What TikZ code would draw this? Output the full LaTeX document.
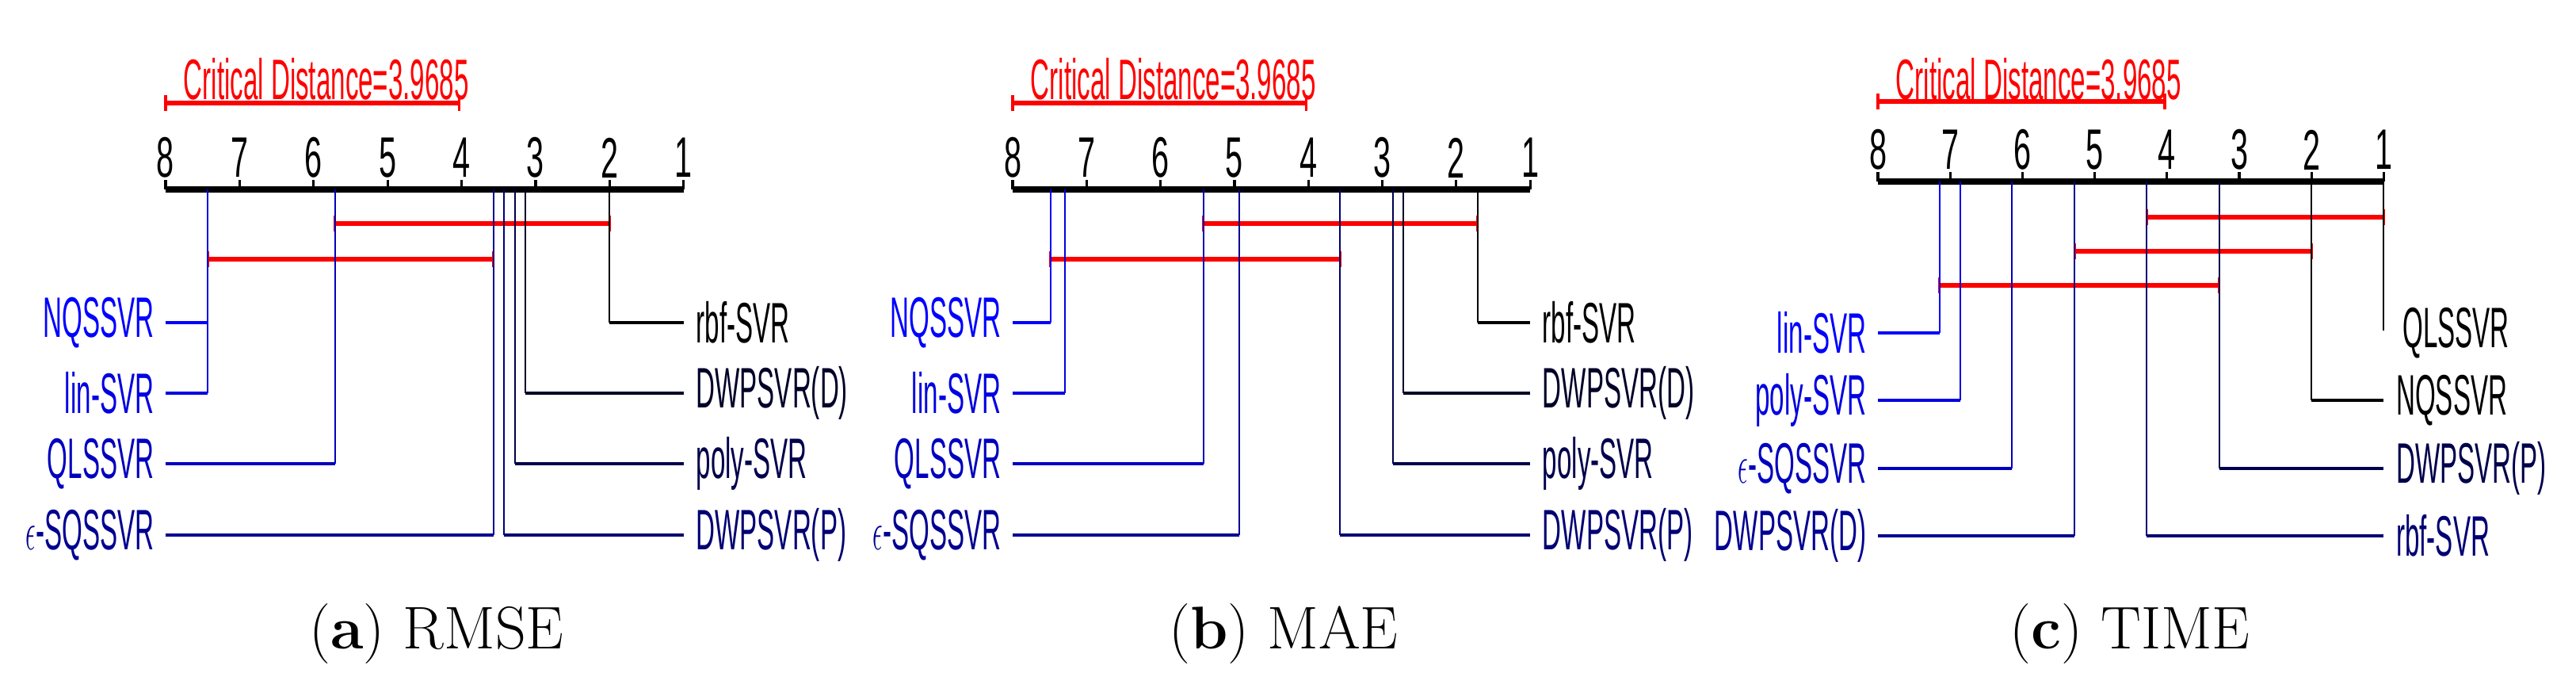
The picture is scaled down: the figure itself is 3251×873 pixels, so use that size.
\documentclass[tikz,border=0pt]{standalone}
\usepackage{fontspec}
\usepackage{graphicx}
\newfontfamily\labf{Liberation Sans}
\definecolor{cA}{RGB}{0,0,255}
\definecolor{cB}{RGB}{0,0,225}
\definecolor{cC}{RGB}{0,0,190}
\definecolor{cD}{RGB}{0,0,145}
\definecolor{kB}{RGB}{0,0,40}
\definecolor{kC}{RGB}{0,0,75}
\definecolor{kD}{RGB}{0,0,115}
\definecolor{cdred}{RGB}{255,0,0}
\tikzset{
  vl/.style={line width=0.5pt},
  hl/.style={line width=0.8pt},
  lab/.style={inner sep=0pt,font=\fontsize{18}{20}\labf},
  captxt/.style={inner sep=0pt,font=\fontsize{19}{22}\selectfont},
  redbar/.style={cdred,line width=1.4pt},
  redend/.style={cdred,line width=0.8pt},
}
\newcommand\RX[1]{{\xo+(8-#1)*\st}}
\newcommand\Lrow[5]{%
  \draw[vl,#3] (\RX{#1},\ay) -- (\RX{#1},#2);
  \draw[hl,#3] (\RX{#1},#2) -- (\xo,#2);
  \node[lab,text=#3,anchor=east] (#5) at (\xo-14,#2) {\scalebox{0.46}[1]{#4}};}
\newcommand\Rrow[5]{%
  \draw[vl,#3] (\RX{#1},\ay) -- (\RX{#1},#2);
  \draw[hl,#3] (\RX{#1},#2) -- ({\xo+7*\st},#2);
  \node[lab,text=#3,anchor=west] (#5) at ({\xo+7*\st+15},#2) {\scalebox{0.46}[1]{#4}};}
\newcommand\Bar[3]{%
  \draw[redbar] (\RX{#1},#3) -- (\RX{#2},#3);
  \draw[redend] (\RX{#1},#3-10) -- (\RX{#1},#3+10);
  \draw[redend] (\RX{#2},#3-10) -- (\RX{#2},#3+10);}
\newcommand\Axis[4]{% x8, step, axis y, prefix
  \node[lab,text=cdred,anchor=west] (#4cd) at (#1+22,100) {\scalebox{0.46}[1]{Critical Distance=3.9685}};
  \draw[redbar] (#1,\cdy) -- ({#1+3.9685*#2},\cdy);
  \draw[redend] (#1,\cdy-10) -- (#1,\cdy+10);
  \draw[redend] ({#1+3.9685*#2},\cdy-10) -- ({#1+3.9685*#2},\cdy+10);
  \draw[line width=2pt] (#1,#3) -- ({#1+7*#2},#3);
  \foreach \i in {1,...,8}{
    \draw[line width=0.8pt] ({#1+(8-\i)*#2},#3) -- ({#1+(8-\i)*#2},#3-12);
    \node[lab] (#4t\i) at ({#1+(8-\i)*#2},#3-40) {\scalebox{0.55}[1]{\i}};}}
\begin{document}
\begin{tikzpicture}[x=0.25pt,y=-0.25pt]
\useasboundingbox (0,0) rectangle (3251,873);
% ---------- (a) RMSE
\def\xo{209}\def\st{93.4}\def\ay{239}\def\cdy{130}
\Axis{209}{93.4}{239}{a}
\Bar{5.71}{2.0}{282}
\Bar{7.43}{3.57}{327}
\draw[vl,cB] (\RX{7.43},\ay) -- (\RX{7.43},496);
\draw[hl,cA] (\RX{7.43},407) -- (\xo,407);
\node[lab,text=cA,anchor=east] (aNQ) at (\xo-14,407) {\scalebox{0.46}[1]{NQSSVR}};
\draw[hl,cB] (\RX{7.43},496) -- (\xo,496);
\node[lab,text=cB,anchor=east] (aLin) at (\xo-14,496) {\scalebox{0.46}[1]{lin-SVR}};
\Lrow{5.71}{585}{cC}{QLSSVR}{aQL}
\Lrow{3.57}{675}{cD}{$\epsilon$-SQSSVR}{aEps}
\Rrow{2.0}{407}{black}{rbf-SVR}{aRbf}
\Rrow{3.14}{496}{kB}{DWPSVR(D)}{aDD}
\Rrow{3.28}{585}{kC}{poly-SVR}{aPoly}
\Rrow{3.43}{675}{kD}{DWPSVR(P)}{aDP}
\node[captxt] (capa) at (551,800) {(\textbf{a}) RMSE};
% ---------- (b) MAE
\def\xo{1278}\def\st{93.3}\def\ay{239}\def\cdy{130}
\Axis{1278}{93.3}{239}{b}
\Bar{5.42}{1.71}{282}
\Bar{7.49}{3.57}{327}
\Lrow{7.49}{407}{cA}{NQSSVR}{bNQ}
\Lrow{7.29}{496}{cB}{lin-SVR}{bLin}
\Lrow{5.42}{585}{cC}{QLSSVR}{bQL}
\Lrow{4.93}{675}{cD}{$\epsilon$-SQSSVR}{bEps}
\Rrow{1.71}{407}{black}{rbf-SVR}{bRbf}
\Rrow{2.72}{496}{kB}{DWPSVR(D)}{bDD}
\Rrow{2.86}{585}{kC}{poly-SVR}{bPoly}
\Rrow{3.57}{675}{kD}{DWPSVR(P)}{bDP}
\node[captxt] (capb) at (1620,800) {(\textbf{b}) MAE};
% ---------- (c) TIME
\def\xo{2370}\def\st{91.2}\def\ay{229}\def\cdy{128}
\Axis{2370}{91.2}{229}{c}
\Bar{4.28}{1.0}{274}
\Bar{5.28}{2.0}{317}
\Bar{7.15}{3.28}{360}
\Lrow{7.15}{420}{cA}{lin-SVR}{cLin}
\Lrow{6.86}{505}{cB}{poly-SVR}{cPoly}
\Lrow{6.15}{591}{cC}{$\epsilon$-SQSSVR}{cEps}
\Lrow{5.28}{676}{cD}{DWPSVR(D)}{cDD}
\draw[vl] (\RX{1},\ay) -- (\RX{1},417);
\node[lab,anchor=west] (cQL) at ({\xo+7*\st+23},420) {\scalebox{0.46}[1]{QLSSVR}};
\Rrow{2.0}{505}{black}{NQSSVR}{cNQ}
\Rrow{3.28}{591}{kC}{DWPSVR(P)}{cDP}
\Rrow{4.28}{676}{kD}{rbf-SVR}{cRbf}
\node[captxt] (capc) at (2688,800) {(\textbf{c}) TIME};
\end{tikzpicture}
\end{document}
